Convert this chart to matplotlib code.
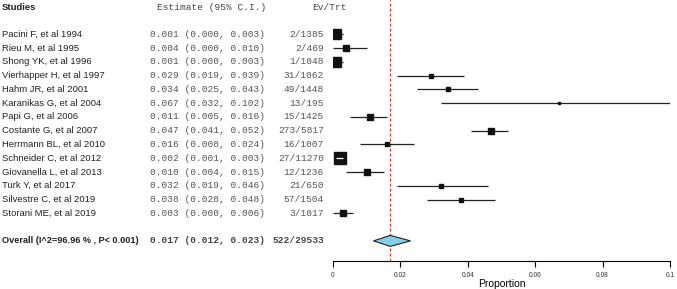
import matplotlib.pyplot as plt
from matplotlib.transforms import blended_transform_factory
from matplotlib.patches import Polygon

studies = ["Pacini F, et al 1994", "Rieu M, et al 1995", "Shong YK, et al 1996",
           "Vierhapper H, et al 1997", "Hahm JR, et al 2001", "Karanikas G, et al 2004",
           "Papi G, et al 2006", "Costante G, et al 2007", "Herrmann BL, et al 2010",
           "Schneider C, et al 2012", "Giovanella L, et al 2013", "Turk Y, et al 2017",
           "Silvestre C, et al 2019", "Storani ME, et al 2019"]
est = [0.001, 0.004, 0.001, 0.029, 0.034, 0.067, 0.011, 0.047, 0.016, 0.002, 0.010, 0.032, 0.038, 0.003]
lo = [0.000, 0.000, 0.000, 0.019, 0.025, 0.032, 0.005, 0.041, 0.008, 0.001, 0.004, 0.019, 0.028, 0.000]
hi = [0.003, 0.010, 0.003, 0.039, 0.043, 0.102, 0.016, 0.052, 0.024, 0.003, 0.015, 0.046, 0.048, 0.006]
ev_trt = ["2/1385", "2/469", "1/1048", "31/1062", "49/1448", "13/195", "15/1425", "273/5817",
          "16/1007", "27/11270", "12/1236", "21/650", "57/1504", "3/1017"]
# relative box size (weight)
weights = [9.5, 6, 10, 4.5, 4.5, 2.3, 5.5, 5.5, 4.5, 11.5, 5.5, 3.5, 4.5, 6.5]

overall_label = "Overall (I^2=96.96 % , P< 0.001)"
overall = (0.017, 0.012, 0.023)
overall_ev = "522/29533"
xticks = [0, 0.02, 0.04, 0.06, 0.08, 0.1]
xticklabels = ["0", "0.02", "0.04", "0.06", "0.08", "0.1"]

W, H = 677, 289
fig = plt.figure(figsize=(W / 100, H / 100), dpi=100)
ax = fig.add_axes([333 / W, (H - 261) / H, 337 / W, 261 / H])
ax.set_xlim(0, 0.1)
n = len(studies)
ov_row = n + 1
ax.set_ylim(16.46, -2.49)

for s in ["top", "right", "left"]:
    ax.spines[s].set_visible(False)
ax.spines["bottom"].set_bounds(0, 0.1)
ax.spines["bottom"].set_linewidth(0.8)
ax.set_yticks([])
ax.set_xticks(xticks)
ax.set_xticklabels(xticklabels, fontsize=4.8, family="Liberation Sans", color="#333")
ax.tick_params(axis="x", length=4, width=0.8, pad=4)
ax.set_xlabel("Proportion", fontsize=7.5, family="Liberation Sans", labelpad=0)

ax.axvline(overall[0], color="#d62728", ls=(0, (2.5, 2)), lw=0.8, ymin=0, ymax=1)

ppd = 337 / 0.1  # pixels per data unit
for i in range(n):
    ax.plot([lo[i], hi[i]], [i, i], color="#222", lw=0.9, solid_capstyle="butt", zorder=2)
    ax.plot(est[i], i, marker="s", ms=weights[i] * 0.72, color="#111", mec="#111", zorder=3)
    half = weights[i] / 2 / ppd
    if lo[i] >= est[i] - half and hi[i] <= est[i] + half:
        ax.plot([lo[i], hi[i]], [i, i], color="white", lw=0.9, solid_capstyle="butt", zorder=4)

m, l, h = overall
ax.add_patch(Polygon([(l, ov_row), (m, ov_row - 0.4), (h, ov_row), (m, ov_row + 0.4)],
                     closed=True, fc="#87CEEB", ec="#222", lw=0.8, zorder=3))

tr = blended_transform_factory(fig.transFigure, ax.transData)
sans = "Liberation Sans"
mono = "Liberation Mono"
hdr = -1.91
ax.text(2 / W, hdr, "Studies", transform=tr, fontsize=6.8, family=sans, fontweight="bold",
        va="center", color="#222")
ax.text(157 / W, hdr, "Estimate (95% C.I.)", transform=tr, fontsize=6.8, family=mono,
        va="center", color="#444")
ax.text(312 / W, hdr, "Ev/Trt", transform=tr, fontsize=6.8, family=mono,
        va="center", color="#444")

for i in range(n):
    ax.text(2 / W, i, studies[i], transform=tr, fontsize=6.8, family=sans, va="center", color="#222")
    ax.text(150 / W, i, f"{est[i]:.3f} ({lo[i]:.3f}, {hi[i]:.3f})", transform=tr,
            fontsize=6.8, family=mono, va="center", color="#555")
    ax.text(324 / W, i, ev_trt[i], transform=tr, fontsize=6.8, family=mono, va="center",
            ha="right", color="#555")

ax.text(2 / W, ov_row, overall_label, transform=tr, fontsize=6.6, family=sans,
        fontweight="bold", va="center", color="#222")
ax.text(150 / W, ov_row, f"{m:.3f} ({l:.3f}, {h:.3f})", transform=tr, fontsize=6.8,
        family=mono, fontweight="bold", va="center", color="#444")
ax.text(324 / W, ov_row, overall_ev, transform=tr, fontsize=6.8, family=mono,
        fontweight="bold", va="center", ha="right", color="#444")

fig.savefig("out.png", dpi=100)
